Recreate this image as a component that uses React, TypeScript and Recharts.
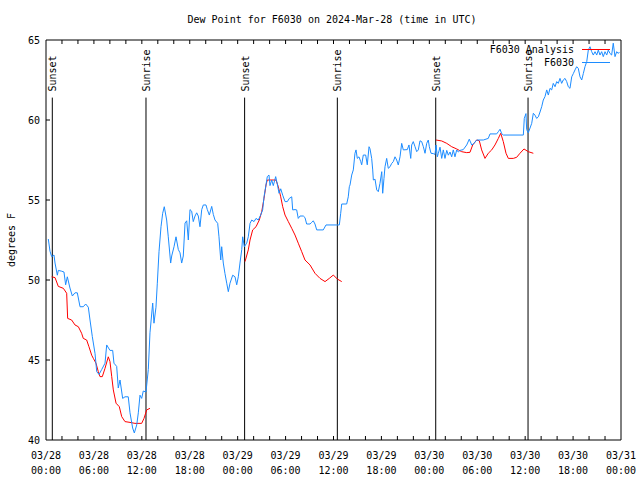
import React from 'react';
import { LineChart, Line, XAxis, YAxis, ReferenceLine } from 'recharts';

// time is hours since 2024-03-28 00:00 UTC, values in degrees F
const obsSeries: [number, number][] = [
  [0.29, 52.56], [0.5, 51.8], [0.71, 51.46], [1.0, 51.56], [1.13, 51.06], [1.42, 50.3], [1.54, 50.6],
  [1.96, 50.55], [2.25, 50.5], [2.46, 49.7], [2.67, 50.2], [3.0, 49.5], [3.3, 49.0], [3.63, 49.2],
  [3.92, 49.2], [4.26, 48.33], [4.67, 48.33], [4.97, 48.5], [5.3, 48.3], [5.51, 47.5], [5.8, 46.46],
  [6.14, 45.4], [6.35, 44.27], [6.64, 44.1], [6.97, 44.4], [7.39, 44.8], [7.6, 45.94], [8.01, 45.6],
  [8.35, 45.6], [8.51, 44.8], [8.85, 44.6], [9.05, 43.25], [9.27, 43.75], [9.6, 42.6], [9.89, 42.7],
  [10.3, 42.7], [10.52, 41.7], [10.85, 40.75], [11.06, 40.44], [11.36, 40.94], [11.56, 41.7],
  [11.77, 42.8], [11.98, 42.6], [12.18, 43.06], [12.52, 43.0], [12.81, 44.4], [13.02, 46.7],
  [13.36, 48.56], [13.52, 47.3], [13.77, 48.3], [13.94, 49.8], [14.15, 51.77], [14.4, 53.33],
  [14.61, 54.17], [14.81, 54.58], [15.11, 53.75], [15.31, 52.7], [15.61, 51.06], [15.74, 51.5],
  [16.03, 52.08], [16.28, 52.7], [16.57, 51.9], [16.78, 51.7], [16.99, 51.06], [17.19, 51.5],
  [17.41, 53.56], [17.62, 53.7], [17.82, 52.5], [18.03, 54.4], [18.24, 54.3], [18.44, 53.65],
  [18.66, 54.0], [18.87, 54.2], [19.07, 54.0], [19.28, 53.33], [19.5, 54.4], [19.7, 54.69],
  [20.03, 54.69], [20.2, 54.4], [20.45, 54.06], [20.75, 54.6], [20.95, 54.1], [21.16, 53.75],
  [21.5, 53.54], [21.66, 52.7], [21.88, 51.25], [22.0, 52.08], [22.2, 51.06], [22.41, 50.4],
  [22.63, 49.8], [22.83, 49.27], [23.04, 49.8], [23.38, 50.3], [23.67, 50.2], [23.88, 49.7],
  [24.08, 50.2], [24.29, 51.06], [24.51, 51.9], [24.63, 52.7], [24.83, 52.08], [25.13, 52.3],
  [25.33, 52.7], [25.55, 53.54], [25.76, 53.75], [26.05, 53.65], [26.3, 53.85], [26.58, 53.75],
  [26.88, 54.06], [27.13, 54.38], [27.3, 55.2], [27.51, 55.83], [27.71, 56.46], [27.92, 56.56],
  [28.05, 55.9], [28.26, 56.25], [28.46, 55.9], [28.76, 56.46], [28.96, 56.0], [29.18, 55.42],
  [29.39, 55.7], [29.64, 55.3], [29.93, 54.9], [30.22, 54.9], [30.47, 55.1], [30.77, 55.2],
  [30.89, 54.38], [31.18, 54.4], [31.39, 54.38], [31.59, 53.85], [31.81, 54.0], [32.22, 54.0],
  [32.43, 53.9], [32.64, 53.5], [33.06, 53.5], [33.27, 53.6], [33.47, 53.7], [33.68, 53.5],
  [33.9, 53.13], [34.72, 53.13], [35.06, 53.44], [36.4, 53.44], [36.73, 53.44], [36.9, 54.17],
  [37.03, 54.75], [37.65, 54.75], [37.85, 55.2], [37.98, 55.83], [38.07, 55.94], [38.28, 56.56],
  [38.48, 56.88], [38.69, 57.92], [38.82, 58.13], [38.98, 57.6], [39.19, 57.7], [39.41, 57.4],
  [39.53, 57.2], [39.73, 57.81], [40.03, 57.81], [40.23, 57.2], [40.45, 58.33], [40.57, 58.2],
  [40.78, 57.6], [40.91, 56.88], [40.99, 56.25], [41.2, 56.3], [41.41, 55.63], [41.61, 55.52],
  [41.82, 56.04], [42.04, 56.77], [42.16, 55.42], [42.32, 56.35], [42.45, 57.08], [42.66, 57.6],
  [42.86, 56.98], [43.08, 57.08], [43.29, 57.29], [43.49, 57.4], [43.7, 57.7], [43.91, 57.5],
  [44.11, 57.19], [44.33, 57.7], [44.54, 58.54], [44.74, 58.13], [45.24, 58.15], [45.45, 58.44],
  [45.67, 57.6], [45.79, 58.44], [45.99, 58.65], [46.21, 58.33], [46.42, 58.02], [46.62, 58.13],
  [46.83, 58.7], [47.04, 58.65], [47.25, 58.33], [47.46, 57.92], [47.67, 58.54], [47.87, 58.75],
  [48.0, 58.33], [48.21, 57.92], [48.5, 57.9], [48.71, 57.85], [48.84, 58.44], [49.0, 57.7],
  [49.12, 57.9], [49.34, 58.3], [49.55, 57.6], [49.75, 58.13], [49.96, 57.6], [50.18, 58.1],
  [50.38, 57.8], [50.59, 58.0], [50.8, 57.7], [51.0, 58.13], [51.21, 57.7], [51.43, 58.13],
  [51.63, 58.0], [51.84, 58.1], [52.25, 58.15], [52.68, 58.44], [53.0, 58.8], [53.31, 58.44],
  [53.51, 58.5], [53.93, 58.75], [54.76, 58.75], [55.38, 58.85], [55.6, 59.13], [56.43, 59.13],
  [56.64, 59.27], [56.85, 59.42], [57.06, 59.15], [57.26, 59.06], [59.77, 59.06], [59.89, 60.1],
  [60.1, 60.4], [60.19, 59.4], [60.39, 59.2], [60.61, 59.5], [60.82, 59.79], [61.02, 60.42],
  [61.23, 60.3], [61.44, 60.1], [61.65, 60.2], [61.86, 60.5], [62.07, 60.83], [62.27, 61.25],
  [62.48, 61.46], [62.7, 61.88], [62.9, 61.56], [63.11, 61.98], [63.32, 61.88], [63.52, 62.29],
  [63.74, 62.08], [63.95, 62.4], [64.15, 62.29], [64.36, 62.6], [64.57, 62.29], [64.77, 62.5],
  [64.99, 62.6], [65.2, 62.4], [65.4, 62.08], [65.61, 61.98], [65.83, 62.7], [66.03, 62.9],
  [66.24, 63.13], [66.45, 63.33], [66.65, 63.23], [66.87, 62.7], [67.08, 62.5], [67.28, 62.9],
  [67.49, 63.33], [67.71, 63.65], [67.91, 64.38], [68.12, 64.58], [68.33, 64.27], [68.53, 64.06],
  [68.75, 64.27], [68.96, 64.06], [69.16, 64.37], [69.37, 64.06], [69.58, 64.27], [69.78, 63.96],
  [70.0, 64.27], [70.21, 64.06], [70.41, 64.37], [70.62, 64.16], [70.83, 64.06], [71.03, 64.8],
  [71.25, 63.96], [71.46, 64.27], [71.66, 64.16], [71.8, 64.25],
];

// analysis runs, three separate pieces
const analysisNight1: [number, number][] = [
  [0.71, 50.2], [1.13, 50.15], [1.54, 49.6], [2.17, 49.48], [2.59, 49.17], [2.71, 47.6], [3.21, 47.5],
  [3.63, 47.19], [4.05, 47.08], [4.46, 46.67], [4.67, 46.35], [5.09, 46.25], [5.38, 45.83],
  [5.72, 45.3], [5.93, 45.1], [6.26, 44.8], [6.55, 44.27], [6.76, 43.96], [7.05, 43.96],
  [7.39, 44.48], [7.8, 45.2], [8.01, 44.9], [8.23, 43.96], [8.43, 43.13], [8.77, 42.3],
  [9.18, 42.08], [9.48, 41.46], [9.89, 41.15], [10.52, 41.1], [11.14, 41.04], [11.98, 41.04],
  [12.27, 41.35], [12.61, 41.88], [13.02, 41.98],
];
const analysisNight2: [number, number][] = [
  [24.92, 51.15], [25.33, 51.88], [25.55, 52.5], [25.88, 53.13], [26.3, 53.33], [26.71, 53.75],
  [27.01, 54.27], [27.3, 55.1], [27.55, 55.94], [27.71, 56.25], [28.8, 56.25], [29.09, 55.83],
  [29.39, 55.2], [29.64, 54.58], [29.93, 54.06], [30.34, 53.65], [30.77, 53.23], [31.18, 52.81],
  [31.59, 52.3], [32.02, 51.77], [32.43, 51.25], [33.06, 50.94], [33.68, 50.42], [34.31, 50.1],
  [34.94, 49.9], [35.47, 50.1], [35.98, 50.31], [36.48, 50.06], [37.03, 49.9],
];
const analysisNight3: [number, number][] = [
  [48.84, 58.75], [49.55, 58.69], [50.18, 58.54], [50.8, 58.33], [51.43, 58.19], [52.05, 58.02],
  [52.68, 57.96], [53.09, 57.98], [53.43, 58.44], [53.93, 58.75], [54.26, 58.7], [54.55, 58.13],
  [54.97, 57.6], [55.38, 57.92], [55.81, 58.13], [56.22, 58.44], [56.64, 58.85], [56.94, 59.17],
  [57.26, 58.65], [57.6, 57.92], [57.89, 57.6], [58.51, 57.6], [58.94, 57.67], [59.35, 57.92],
  [59.85, 58.19], [60.39, 58.02], [61.02, 57.92],
];

const sunEvents: [number, string][] = [
  [0.79, 'Sunset'], [12.52, 'Sunrise'], [24.87, 'Sunset'],
  [36.48, 'Sunrise'], [48.8, 'Sunset'], [60.36, 'Sunrise'],
];
const sunLineTop = 61.4;

const minorHours = Array.from({ length: 37 }, (_, i) => i * 2);
const labelHours = [0, 6, 12, 18, 24, 30, 36, 42, 48, 54, 60, 66, 72];
const dateLabels = ['03/28', '03/28', '03/28', '03/28', '03/29', '03/29', '03/29', '03/29', '03/30', '03/30', '03/30', '03/30', '03/31'];
const timeLabels = ['00:00', '06:00', '12:00', '18:00', '00:00', '06:00', '12:00', '18:00', '00:00', '06:00', '12:00', '18:00', '00:00'];
const yTicks = [40, 45, 50, 55, 60, 65];

const FONT = '"DejaVu Sans Mono", monospace';
const OBS_COLOR = '#1c8cff';
const ANA_COLOR = '#ff0000';

const obsData = obsSeries.map(([t, v]) => ({ t, v }));
const analysisData = [
  ...analysisNight1.map(([t, v]) => ({ t, v })),
  { t: 18, v: null },
  ...analysisNight2.map(([t, v]) => ({ t, v })),
  { t: 42, v: null },
  ...analysisNight3.map(([t, v]) => ({ t, v })),
];

const BottomTick = ({ x, y, payload }: any) => {
  const i = labelHours.indexOf(payload.value);
  const inner = payload.value > 0 && payload.value < 72;
  return (
    <g>
      {inner && <line x1={x} y1={y} x2={x} y2={y - 4} stroke="#000" />}
      {i >= 0 && (
        <text x={x} y={y + 19} textAnchor="middle" fontFamily={FONT} fontSize={10} fill="#000">
          {dateLabels[i]}
        </text>
      )}
      {i >= 0 && (
        <text x={x} y={y + 34} textAnchor="middle" fontFamily={FONT} fontSize={10} fill="#000">
          {timeLabels[i]}
        </text>
      )}
    </g>
  );
};

const TopTick = ({ x, y, payload }: any) =>
  payload.value > 0 && payload.value < 72 ? <line x1={x} y1={y} x2={x} y2={y + 4} stroke="#000" /> : <g />;

const LeftTick = ({ x, y, payload }: any) => (
  <g>
    {payload.value > 40 && payload.value < 65 && <line x1={x} y1={y} x2={x + 4} y2={y} stroke="#000" />}
    <text x={x - 6} y={y + 4} textAnchor="end" fontFamily={FONT} fontSize={10} fill="#000">
      {payload.value}
    </text>
  </g>
);

const RightTick = ({ x, y, payload }: any) =>
  payload.value > 40 && payload.value < 65 ? <line x1={x} y1={y} x2={x - 4} y2={y} stroke="#000" /> : <g />;

const sunLabel = (text: string) => (props: any) => {
  const vb = props.viewBox || {};
  const lx = vb.x + 4;
  const ly = vb.y - 6;
  return (
    <text x={lx} y={ly} transform={`rotate(-90 ${lx} ${ly})`} fontFamily={FONT} fontSize={10} fill="#000">
      {text}
    </text>
  );
};

export default function App() {
  return (
    <div style={{ position: 'absolute', left: 0, top: 0, width: 640, height: 480, background: '#fff', fontFamily: FONT }}>
      <div style={{ position: 'absolute', left: 0, width: 664, top: 14, textAlign: 'center', fontSize: 10 }}>
        Dew Point for F6030 on 2024-Mar-28 (time in UTC)
      </div>
      <div
        style={{
          position: 'absolute', left: 11, top: 240, fontSize: 10, whiteSpace: 'nowrap',
          transform: 'translate(-50%, -50%) rotate(-90deg)',
        }}
      >
        degrees F
      </div>
      <LineChart width={640} height={480} data={obsData} margin={{ top: 39, right: 18, bottom: 0, left: 0 }}>
        <XAxis
          dataKey="t"
          type="number"
          domain={[0, 72]}
          ticks={minorHours}
          interval={0}
          allowDataOverflow
          height={40}
          tickSize={0}
          tickMargin={0}
          tickLine={false}
          axisLine={{ stroke: '#000' }}
          tick={<BottomTick />}
        />
        <XAxis
          xAxisId="top"
          orientation="top"
          dataKey="t"
          type="number"
          domain={[0, 72]}
          ticks={minorHours}
          interval={0}
          height={1}
          tickSize={0}
          tickMargin={0}
          tickLine={false}
          axisLine={{ stroke: '#000' }}
          tick={<TopTick />}
        />
        <YAxis
          type="number"
          domain={[40, 65]}
          ticks={yTicks}
          interval={0}
          allowDataOverflow
          width={46}
          tickSize={0}
          tickMargin={0}
          tickLine={false}
          axisLine={{ stroke: '#000' }}
          tick={<LeftTick />}
        />
        <YAxis
          yAxisId="right"
          orientation="right"
          type="number"
          domain={[40, 65]}
          ticks={yTicks}
          interval={0}
          width={1}
          tickSize={0}
          tickMargin={0}
          tickLine={false}
          axisLine={{ stroke: '#000' }}
          tick={<RightTick />}
        />
        {sunEvents.map(([t, name]) => (
          <ReferenceLine
            key={t}
            segment={[{ x: t, y: 40 }, { x: t, y: sunLineTop }]}
            stroke="#000"
            strokeWidth={1}
            label={sunLabel(name)}
          />
        ))}
        <Line
          data={analysisData}
          dataKey="v"
          type="linear"
          stroke={ANA_COLOR}
          strokeWidth={1}
          dot={false}
          connectNulls={false}
          isAnimationActive={false}
        />
        <Line
          dataKey="v"
          type="linear"
          stroke={OBS_COLOR}
          strokeWidth={1}
          dot={false}
          isAnimationActive={false}
        />
      </LineChart>
      <div style={{ position: 'absolute', left: 440, top: 43, width: 170, fontSize: 10, lineHeight: '13px' }}>
        {[['F6030 Analysis', ANA_COLOR], ['F6030', OBS_COLOR]].map(([name, color]) => (
          <div key={name} style={{ display: 'flex', alignItems: 'center', justifyContent: 'flex-end' }}>
            <span>{name}</span>
            <span style={{ display: 'inline-block', width: 28, height: 0, borderTop: `1px solid ${color}`, marginLeft: 8 }} />
          </div>
        ))}
      </div>
    </div>
  );
}
